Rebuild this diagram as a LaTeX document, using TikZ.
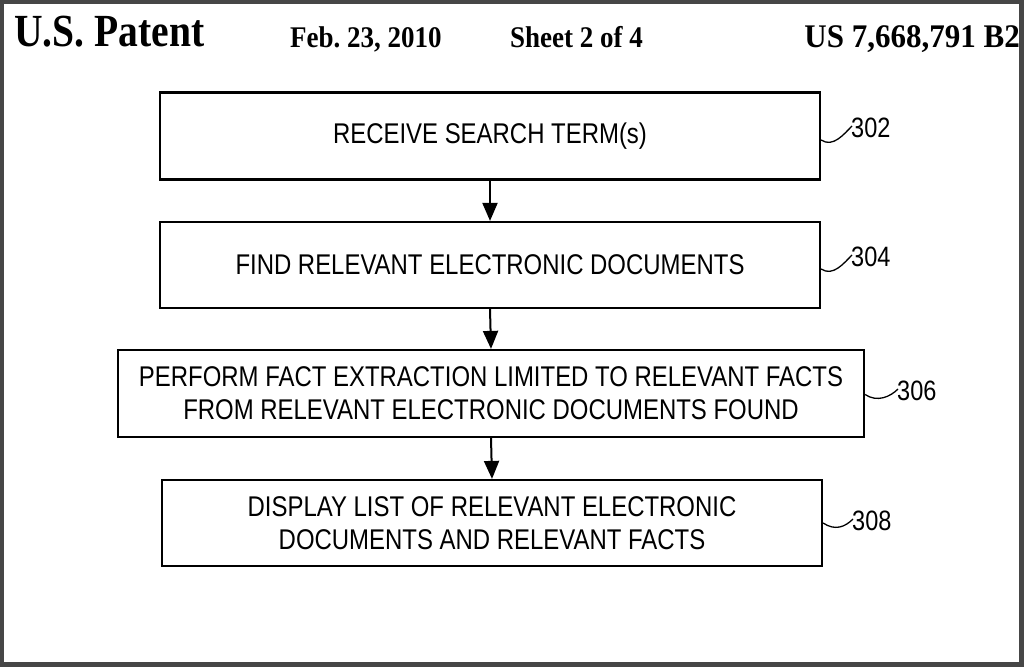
\documentclass[tikz,border=0pt]{standalone}
\usepackage{fontspec}
\usepackage{graphicx}
\setmainfont{Liberation Serif}
\newfontfamily\arialn[FakeStretch=0.84]{Liberation Sans}
\usetikzlibrary{arrows.meta}
\frenchspacing
\begin{document}
\begin{tikzpicture}[x=1pt,y=-1pt,
  flowbox/.style={draw=black,line width=2.2pt,fill=white,minimum width=660pt,minimum height=87pt,inner sep=0pt,align=center,
    font=\arialn\fontsize{28.5}{33}\selectfont},
  hdr/.style={anchor=base west,inner sep=0pt},
  reflabel/.style={font=\arialn\fontsize{28}{28}\selectfont,anchor=west,inner sep=0pt},
  flowarrow/.style={line width=2pt,-{Triangle[length=18pt,width=15pt]}},
  leader/.style={line width=1.3pt}]
\fill[gray!55!black] (0,0) rectangle (1024,667);
\fill[white] (4,4) rectangle (1019,662);
\useasboundingbox (0,0) rectangle (1024,667);
% header
\node[hdr] (h1) at (14,46) {\scalebox{0.86}[1]{\bfseries\fontsize{46}{46}\selectfont U.S. Patent}};
\node[hdr] (h2) at (290,47) {\scalebox{0.9}[1]{\bfseries\fontsize{30}{30}\selectfont Feb. 23, 2010}};
\node[hdr] (h3) at (510,47) {\scalebox{0.9}[1]{\bfseries\fontsize{30}{30}\selectfont Sheet 2 of 4}};
\node[hdr,anchor=base east] (h4) at (1020,47) {\scalebox{0.94}[1]{\bfseries\fontsize{33}{33}\selectfont US 7,668,791 B2}};
% boxes
\node[flowbox] (b1) at (490,136) {RECEIVE SEARCH TERM(s)};
\node[flowbox,minimum height=86pt] (b2) at (490,265) {FIND RELEVANT ELECTRONIC DOCUMENTS};
\node[flowbox,minimum width=746pt] (b3) at (491,393.5) {PERFORM FACT EXTRACTION LIMITED TO RELEVANT FACTS\\FROM RELEVANT ELECTRONIC DOCUMENTS FOUND};
\node[flowbox,minimum height=86pt] (b4) at (492,523) {DISPLAY LIST OF RELEVANT ELECTRONIC\\DOCUMENTS AND RELEVANT FACTS};
% arrows
\draw[flowarrow] (b1.south) -- (b2.north);
\draw[flowarrow] (b2.south) -- (b3.north);
\draw[flowarrow] (b3.south) -- (b4.north);
% reference labels
\node[reflabel] (r1) at (851,128) {302};
\node[reflabel] (r2) at (851,257) {304};
\node[reflabel] (r3) at (897,391) {306};
\node[reflabel] (r4) at (852,521) {308};
\draw[leader] ([yshift=-4pt]b1.east) .. controls +(12,8) and +(-8,8) .. ([xshift=1pt,yshift=2pt]r1.west);
\draw[leader] ([yshift=-4pt]b2.east) .. controls +(12,8) and +(-8,8) .. ([xshift=1pt,yshift=2pt]r2.west);
\draw[leader] ([yshift=-1pt]b3.east) .. controls +(12,8) and +(-8,8) .. ([xshift=1pt,yshift=2pt]r3.west);
\draw[leader] ([yshift=0pt]b4.east) .. controls +(12,8) and +(-8,8) .. ([xshift=1pt,yshift=2pt]r4.west);
\end{tikzpicture}
\end{document}
